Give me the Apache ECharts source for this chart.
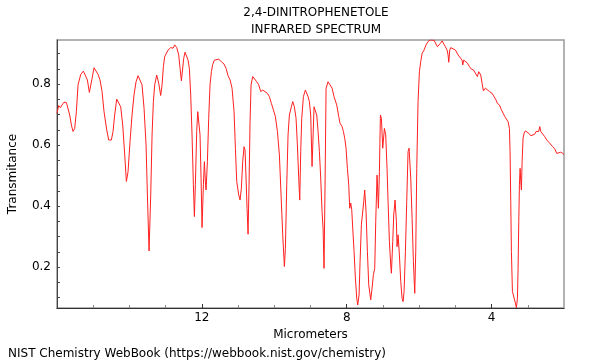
<!DOCTYPE html>
<html>
<head>
<meta charset="utf-8">
<script src="https://cdn.jsdelivr.net/npm/echarts@6/dist/echarts.min.js"></script>
<style>html,body{margin:0;padding:0;background:#fff;}#c{width:600px;height:360px;}</style>
</head>
<body>
<div id="c"></div>
<script>
// wavelength in micrometers
var wavelength = [
16.00,15.953,15.907,15.861,15.806,15.741,15.695,15.649,15.603,15.557,15.511,15.465,15.419,15.345,15.272,15.217,15.161,15.106,15.069,15.032,
14.977,14.922,14.867,14.812,14.756,14.701,14.627,14.572,14.499,14.453,14.407,14.351,14.296,14.241,14.185,14.130,14.084,14.038,13.983,13.928,
13.873,13.817,13.762,13.707,13.652,13.596,13.541,13.504,13.458,13.412,13.375,13.339,13.302,13.247,13.191,13.136,13.099,13.062,13.026,12.934,
12.860,12.796,12.750,12.694,12.639,12.602,12.565,
12.501,12.464,12.418,12.381,12.345,12.308,12.271,12.234,12.206,12.179,12.142,12.114,12.087,12.050,12.022,11.995,11.958,11.930,11.903,11.884,
11.847,11.811,11.774,11.737,11.700,11.654,11.608,11.534,11.461,11.387,11.332,11.277,11.221,11.166,11.111,11.074,11.037,10.982,10.945,10.909,
10.872,10.835,10.807,10.780,10.752,10.724,10.697,10.669,10.641,10.595,10.540,10.485,10.430,10.375,10.319,10.264,10.190,10.135,10.080,10.025,
9.970,9.914,9.859,9.813,9.767,9.721,9.693,9.656,9.620,9.583,9.528,9.491,9.445,9.399,9.362,9.325,9.297,9.270,9.242,9.196,
9.141,9.104,9.067,9.031,8.994,8.957,
8.902,8.874,8.828,8.791,8.754,8.718,8.681,8.653,8.626,8.598,8.570,8.515,8.460,8.405,8.349,8.276,8.220,8.184,8.128,8.092,
8.055,8.018,7.981,7.944,7.917,7.889,7.861,7.834,7.797,7.760,7.723,7.696,7.659,7.631,7.595,7.558,7.530,7.503,7.466,7.429,
7.392,7.337,7.300,7.263,7.226,7.199,7.162,7.125,7.097,7.070,7.042,7.005,6.959,6.923,6.886,6.858,6.821,6.785,6.766,6.729,
6.702,6.665,6.628,6.610,6.582,6.545,6.508,6.471,6.444,6.416,6.379,6.343,6.306,6.278,6.232,6.195,6.158,6.121,6.094,6.066,
6.030,5.993,5.956,5.919,5.864,5.809,5.754,5.698,5.643,5.588,5.551,5.496,
5.459,5.413,5.367,5.321,5.275,5.229,5.201,5.182,5.155,5.127,5.072,4.998,4.925,4.870,4.814,4.796,4.768,4.722,4.667,4.612,
4.557,4.501,4.446,4.391,4.354,4.326,4.299,4.262,4.225,4.170,4.115,4.059,3.986,3.931,3.875,3.839,3.783,3.728,3.673,3.636,
3.581,3.544,3.507,3.489,3.470,3.452,3.424,3.378,3.342,3.314,3.286,3.268,3.249,3.231,3.212,3.194,3.176,3.157,3.130,3.102,
3.065,3.019,2.973,2.918,2.863,2.808,2.771,2.734,2.697,2.670,2.642,2.587,2.532,2.476,2.421,2.366,2.311,2.255,2.200,2.145,
2.090,2.034,2.000
];
var transmittance = [
0.705,0.730,0.723,0.732,0.741,0.740,0.743,0.699,0.666,0.645,0.655,0.710,0.798,0.832,0.843,0.841,0.814,0.773,0.767,0.819,
0.854,0.852,0.832,0.814,0.776,0.710,0.650,0.617,0.617,0.645,0.699,0.751,0.745,0.726,0.666,0.568,0.481,0.513,0.612,0.699,
0.765,0.808,0.828,0.822,0.798,0.721,0.601,0.437,0.253,0.437,0.634,0.743,0.798,0.830,0.803,0.763,0.798,0.858,0.890,0.912,
0.920,0.918,0.929,0.920,0.896,0.852,0.811,
0.885,0.905,0.901,0.879,0.852,0.765,0.634,0.470,0.366,0.470,0.645,0.710,0.705,0.634,0.492,0.330,0.470,0.546,0.481,0.453,
0.546,0.688,0.798,0.841,0.865,0.879,0.874,0.882,0.874,0.866,0.852,0.828,0.814,0.787,0.710,0.590,0.481,0.437,0.420,0.459,
0.546,0.595,0.584,0.492,0.393,0.308,0.470,0.677,0.798,0.825,0.819,0.808,0.798,0.776,0.781,0.776,0.770,0.759,0.737,0.716,
0.694,0.645,0.568,0.437,0.306,0.202,0.262,0.470,0.634,0.699,0.726,0.743,0.726,0.688,0.601,0.492,0.420,0.579,0.688,0.759,
0.781,0.776,0.759,0.743,0.699,0.530,
0.726,0.726,0.699,0.645,0.579,0.492,0.382,0.328,0.196,0.470,0.787,0.808,0.803,0.787,0.759,0.732,0.694,0.672,0.661,0.645,
0.623,0.590,0.524,0.470,0.393,0.410,0.388,0.328,0.251,0.164,0.098,0.076,0.109,0.218,0.339,0.339,0.415,0.453,0.382,0.251,
0.142,0.093,0.131,0.175,0.196,0.349,0.502,0.393,0.513,0.699,0.688,0.590,0.655,0.634,0.524,0.415,0.284,0.207,0.180,0.284,
0.371,0.420,0.349,0.267,0.306,0.240,0.153,0.098,0.087,0.120,0.251,0.415,0.579,0.590,0.492,0.360,0.218,0.114,0.251,0.524,
0.743,0.841,0.874,0.901,0.912,0.929,0.940,0.945,0.940,0.944,0.940,0.923,
0.918,0.934,0.942,0.937,0.923,0.912,0.896,0.872,0.912,0.920,0.918,0.912,0.896,0.890,0.879,0.863,0.879,0.874,0.869,0.858,
0.849,0.847,0.841,0.825,0.841,0.846,0.830,0.803,0.778,0.787,0.781,0.776,0.770,0.767,0.748,0.737,0.732,0.716,0.710,0.694,
0.688,0.677,0.655,0.579,0.415,0.251,0.120,0.114,0.082,0.067,0.098,0.196,0.349,0.470,0.524,0.481,0.453,0.546,0.623,0.639,
0.647,0.645,0.639,0.631,0.634,0.636,0.645,0.650,0.645,0.661,0.645,0.639,0.628,0.617,0.610,0.606,0.595,0.588,0.573,0.577,
0.577,0.573,0.569
];
var titleLines = ['2,4-DINITROPHENETOLE', 'INFRARED SPECTRUM'];
var xLabelValues = [4, 8, 12];
var xMinorTickValues = [3, 5, 6, 7, 9, 10, 11, 13, 14, 15];
var yLabelValues = [0.2, 0.4, 0.6, 0.8];
var yTickValues = [0.1, 0.15, 0.2, 0.25, 0.3, 0.35, 0.4, 0.45, 0.5, 0.55, 0.6, 0.65, 0.7, 0.75, 0.8, 0.85, 0.9];
var xName = 'Micrometers';
var yName = 'Transmitance';
var footer = 'NIST Chemistry WebBook (https://webbook.nist.gov/chemistry)';

var seriesData = wavelength.map(function (w, i) { return [w, transmittance[i]]; });
var FONT = 'DejaVu Sans';
var chart = echarts.init(document.getElementById('c'), null, {renderer: 'canvas'});
chart.setOption({
  animation: false,
  backgroundColor: '#fff',
  title: [
    {text: titleLines.join('\n'), left: 311, top: -1, textAlign: 'center',
     textStyle: {fontFamily: FONT, fontSize: 12, fontWeight: 'normal', color: '#000', lineHeight: 17}},
    {text: footer, left: 3, top: 343,
     textStyle: {fontFamily: FONT, fontSize: 12, fontWeight: 'normal', color: '#000'}}
  ],
  grid: {left: 57, right: 36, top: 40, bottom: 52, show: true, borderColor: '#999', borderWidth: 1.5,
         backgroundColor: 'transparent', containLabel: false, outerBoundsMode: 'none'},
  xAxis: [
    {type: 'value', min: 2, max: 16, inverse: true, position: 'bottom',
     name: xName, nameLocation: 'middle', nameGap: 12,
     nameTextStyle: {fontFamily: FONT, fontSize: 12, color: '#000'},
     axisLine: {show: true, lineStyle: {color: '#333', width: 1}},
     axisTick: {show: true, inside: true, length: 4, customValues: xLabelValues, lineStyle: {color: '#333'}},
     axisLabel: {show: true, customValues: xLabelValues, margin: 4, fontFamily: FONT, fontSize: 12, color: '#000'},
     splitLine: {show: false}},
    {type: 'value', min: 2, max: 16, inverse: true, position: 'bottom', gridIndex: 0,
     axisLine: {show: false},
     axisTick: {show: true, inside: true, length: 3, customValues: xMinorTickValues, lineStyle: {color: '#888'}},
     axisLabel: {show: false},
     splitLine: {show: false}}
  ],
  yAxis: {
    type: 'value', min: 0.066, max: 0.945,
    name: yName, nameLocation: 'middle', nameGap: 38,
    nameTextStyle: {fontFamily: FONT, fontSize: 12, color: '#000'},
    axisLine: {show: true, lineStyle: {color: '#444', width: 1}},
    axisTick: {show: true, inside: true, length: 3, customValues: yTickValues, lineStyle: {color: '#444'}},
    axisLabel: {show: true, customValues: yLabelValues, margin: 6, fontFamily: FONT, fontSize: 12, color: '#000',
      formatter: function (v) { return v.toFixed(1); }},
    splitLine: {show: false}
  },
  series: [{
    type: 'line', xAxisIndex: 0, data: seriesData, showSymbol: false, symbol: 'none',
    lineStyle: {color: '#ff2020', width: 1}, clip: true
  }]
});
</script>
</body>
</html>
